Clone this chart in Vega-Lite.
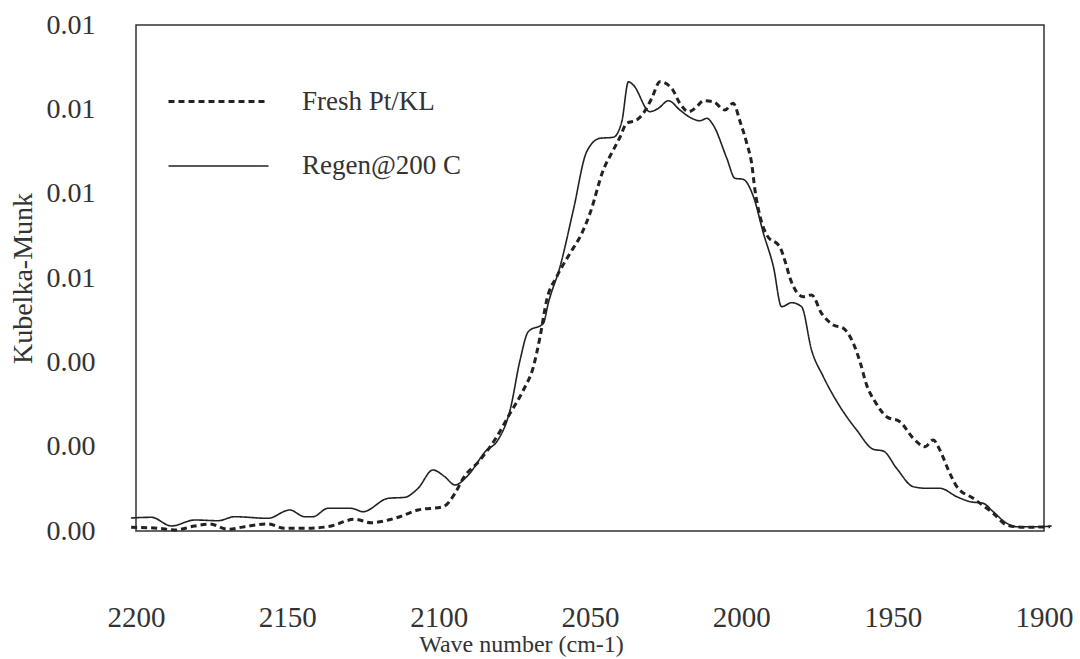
{
  "$schema": "https://vega.github.io/schema/vega-lite/v6.json",
  "width": 908,
  "height": 506,
  "autosize": {"type": "none"},
  "padding": {"left": 136, "top": 25, "right": 36, "bottom": 128},
  "background": "white",
  "config": {
    "font": "Liberation Serif",
    "view": {"stroke": "#333", "strokeWidth": 1.5},
    "axis": {"grid": false, "domain": false, "labelColor": "#333", "titleColor": "#333", "titleFontWeight": "normal", "labelFont": "Liberation Serif", "titleFont": "Liberation Serif"},
    "legend": {"labelFont": "Liberation Serif", "titleFont": "Liberation Serif"}
  },
  "data": {
    "values": [
      {"wn": 2201.7, "v": 0.000308, "s": "Regen@200 C"},
      {"wn": 2194.9, "v": 0.000325, "s": "Regen@200 C"},
      {"wn": 2188.3, "v": 0.000119, "s": "Regen@200 C"},
      {"wn": 2180.6, "v": 0.000261, "s": "Regen@200 C"},
      {"wn": 2172.9, "v": 0.000244, "s": "Regen@200 C"},
      {"wn": 2167.4, "v": 0.000339, "s": "Regen@200 C"},
      {"wn": 2156.4, "v": 0.000301, "s": "Regen@200 C"},
      {"wn": 2149.2, "v": 0.000498, "s": "Regen@200 C"},
      {"wn": 2144.3, "v": 0.000339, "s": "Regen@200 C"},
      {"wn": 2141.5, "v": 0.000339, "s": "Regen@200 C"},
      {"wn": 2136.6, "v": 0.000538, "s": "Regen@200 C"},
      {"wn": 2128.9, "v": 0.000538, "s": "Regen@200 C"},
      {"wn": 2125.0, "v": 0.000458, "s": "Regen@200 C"},
      {"wn": 2116.7, "v": 0.000775, "s": "Regen@200 C"},
      {"wn": 2111.2, "v": 0.000799, "s": "Regen@200 C"},
      {"wn": 2106.8, "v": 0.001013, "s": "Regen@200 C"},
      {"wn": 2101.9, "v": 0.001447, "s": "Regen@200 C"},
      {"wn": 2098.0, "v": 0.001288, "s": "Regen@200 C"},
      {"wn": 2094.6, "v": 0.001091, "s": "Regen@200 C"},
      {"wn": 2090.7, "v": 0.001288, "s": "Regen@200 C"},
      {"wn": 2084.1, "v": 0.001921, "s": "Regen@200 C"},
      {"wn": 2080.8, "v": 0.002118, "s": "Regen@200 C"},
      {"wn": 2076.4, "v": 0.00287, "s": "Regen@200 C"},
      {"wn": 2073.1, "v": 0.004055, "s": "Regen@200 C"},
      {"wn": 2070.4, "v": 0.004726, "s": "Regen@200 C"},
      {"wn": 2065.4, "v": 0.004926, "s": "Regen@200 C"},
      {"wn": 2063.8, "v": 0.0054, "s": "Regen@200 C"},
      {"wn": 2059.9, "v": 0.006268, "s": "Regen@200 C"},
      {"wn": 2055.5, "v": 0.007613, "s": "Regen@200 C"},
      {"wn": 2051.1, "v": 0.008995, "s": "Regen@200 C"},
      {"wn": 2046.7, "v": 0.009313, "s": "Regen@200 C"},
      {"wn": 2042.3, "v": 0.009337, "s": "Regen@200 C"},
      {"wn": 2039.5, "v": 0.009707, "s": "Regen@200 C"},
      {"wn": 2037.3, "v": 0.010655, "s": "Regen@200 C"},
      {"wn": 2035.7, "v": 0.010577, "s": "Regen@200 C"},
      {"wn": 2030.2, "v": 0.009944, "s": "Regen@200 C"},
      {"wn": 2027.4, "v": 0.010024, "s": "Regen@200 C"},
      {"wn": 2024.1, "v": 0.010205, "s": "Regen@200 C"},
      {"wn": 2020.3, "v": 0.009984, "s": "Regen@200 C"},
      {"wn": 2016.4, "v": 0.009787, "s": "Regen@200 C"},
      {"wn": 2013.7, "v": 0.00973, "s": "Regen@200 C"},
      {"wn": 2011.4, "v": 0.009787, "s": "Regen@200 C"},
      {"wn": 2009.3, "v": 0.009628, "s": "Regen@200 C"},
      {"wn": 2004.8, "v": 0.008839, "s": "Regen@200 C"},
      {"wn": 2002.1, "v": 0.008364, "s": "Regen@200 C"},
      {"wn": 1999.4, "v": 0.008341, "s": "Regen@200 C"},
      {"wn": 1996.0, "v": 0.007928, "s": "Regen@200 C"},
      {"wn": 1992.7, "v": 0.00706, "s": "Regen@200 C"},
      {"wn": 1989.4, "v": 0.006268, "s": "Regen@200 C"},
      {"wn": 1986.7, "v": 0.005319, "s": "Regen@200 C"},
      {"wn": 1983.4, "v": 0.005414, "s": "Regen@200 C"},
      {"wn": 1980.1, "v": 0.005319, "s": "Regen@200 C"},
      {"wn": 1976.8, "v": 0.004292, "s": "Regen@200 C"},
      {"wn": 1972.9, "v": 0.003659, "s": "Regen@200 C"},
      {"wn": 1967.4, "v": 0.002948, "s": "Regen@200 C"},
      {"wn": 1961.9, "v": 0.002395, "s": "Regen@200 C"},
      {"wn": 1956.4, "v": 0.001938, "s": "Regen@200 C"},
      {"wn": 1953.1, "v": 0.001897, "s": "Regen@200 C"},
      {"wn": 1948.7, "v": 0.001487, "s": "Regen@200 C"},
      {"wn": 1943.2, "v": 0.001051, "s": "Regen@200 C"},
      {"wn": 1938.8, "v": 0.001013, "s": "Regen@200 C"},
      {"wn": 1934.4, "v": 0.001013, "s": "Regen@200 C"},
      {"wn": 1928.8, "v": 0.000813, "s": "Regen@200 C"},
      {"wn": 1924.4, "v": 0.000695, "s": "Regen@200 C"},
      {"wn": 1920.1, "v": 0.000657, "s": "Regen@200 C"},
      {"wn": 1916.8, "v": 0.000458, "s": "Regen@200 C"},
      {"wn": 1912.3, "v": 0.000183, "s": "Regen@200 C"},
      {"wn": 1909.0, "v": 0.000102, "s": "Regen@200 C"},
      {"wn": 1901.3, "v": 0.000102, "s": "Regen@200 C"},
      {"wn": 1897.5, "v": 0.000119, "s": "Regen@200 C"},
      {"wn": 2201.6, "v": 0.000088, "s": "Fresh Pt/KL"},
      {"wn": 2192.7, "v": 0.000064, "s": "Fresh Pt/KL"},
      {"wn": 2187.2, "v": 0.000024, "s": "Fresh Pt/KL"},
      {"wn": 2180.6, "v": 0.000119, "s": "Fresh Pt/KL"},
      {"wn": 2175.6, "v": 0.000166, "s": "Fresh Pt/KL"},
      {"wn": 2169.6, "v": 0.00004, "s": "Fresh Pt/KL"},
      {"wn": 2164.1, "v": 0.000102, "s": "Fresh Pt/KL"},
      {"wn": 2156.4, "v": 0.000166, "s": "Fresh Pt/KL"},
      {"wn": 2150.9, "v": 0.000064, "s": "Fresh Pt/KL"},
      {"wn": 2144.3, "v": 0.000064, "s": "Fresh Pt/KL"},
      {"wn": 2136.6, "v": 0.000102, "s": "Fresh Pt/KL"},
      {"wn": 2127.7, "v": 0.000277, "s": "Fresh Pt/KL"},
      {"wn": 2122.3, "v": 0.000197, "s": "Fresh Pt/KL"},
      {"wn": 2114.5, "v": 0.000301, "s": "Fresh Pt/KL"},
      {"wn": 2106.8, "v": 0.000498, "s": "Fresh Pt/KL"},
      {"wn": 2098.5, "v": 0.000576, "s": "Fresh Pt/KL"},
      {"wn": 2094.6, "v": 0.000894, "s": "Fresh Pt/KL"},
      {"wn": 2091.9, "v": 0.00125, "s": "Fresh Pt/KL"},
      {"wn": 2086.3, "v": 0.001684, "s": "Fresh Pt/KL"},
      {"wn": 2080.8, "v": 0.002236, "s": "Fresh Pt/KL"},
      {"wn": 2076.4, "v": 0.002791, "s": "Fresh Pt/KL"},
      {"wn": 2072.0, "v": 0.003344, "s": "Fresh Pt/KL"},
      {"wn": 2068.7, "v": 0.003896, "s": "Fresh Pt/KL"},
      {"wn": 2066.5, "v": 0.004608, "s": "Fresh Pt/KL"},
      {"wn": 2064.3, "v": 0.005478, "s": "Fresh Pt/KL"},
      {"wn": 2061.0, "v": 0.006031, "s": "Fresh Pt/KL"},
      {"wn": 2056.6, "v": 0.006586, "s": "Fresh Pt/KL"},
      {"wn": 2052.7, "v": 0.00706, "s": "Fresh Pt/KL"},
      {"wn": 2050.0, "v": 0.007534, "s": "Fresh Pt/KL"},
      {"wn": 2045.6, "v": 0.008561, "s": "Fresh Pt/KL"},
      {"wn": 2042.3, "v": 0.009035, "s": "Fresh Pt/KL"},
      {"wn": 2040.1, "v": 0.009337, "s": "Fresh Pt/KL"},
      {"wn": 2037.9, "v": 0.009669, "s": "Fresh Pt/KL"},
      {"wn": 2034.6, "v": 0.009747, "s": "Fresh Pt/KL"},
      {"wn": 2032.4, "v": 0.009906, "s": "Fresh Pt/KL"},
      {"wn": 2029.6, "v": 0.010261, "s": "Fresh Pt/KL"},
      {"wn": 2026.9, "v": 0.010655, "s": "Fresh Pt/KL"},
      {"wn": 2023.0, "v": 0.010498, "s": "Fresh Pt/KL"},
      {"wn": 2020.3, "v": 0.010143, "s": "Fresh Pt/KL"},
      {"wn": 2017.5, "v": 0.009944, "s": "Fresh Pt/KL"},
      {"wn": 2014.7, "v": 0.010062, "s": "Fresh Pt/KL"},
      {"wn": 2012.6, "v": 0.010205, "s": "Fresh Pt/KL"},
      {"wn": 2009.3, "v": 0.010181, "s": "Fresh Pt/KL"},
      {"wn": 2005.4, "v": 0.009984, "s": "Fresh Pt/KL"},
      {"wn": 2002.7, "v": 0.010143, "s": "Fresh Pt/KL"},
      {"wn": 2000.4, "v": 0.009707, "s": "Fresh Pt/KL"},
      {"wn": 1998.2, "v": 0.009194, "s": "Fresh Pt/KL"},
      {"wn": 1996.6, "v": 0.00872, "s": "Fresh Pt/KL"},
      {"wn": 1995.5, "v": 0.008087, "s": "Fresh Pt/KL"},
      {"wn": 1993.8, "v": 0.007454, "s": "Fresh Pt/KL"},
      {"wn": 1991.6, "v": 0.00702, "s": "Fresh Pt/KL"},
      {"wn": 1987.2, "v": 0.006723, "s": "Fresh Pt/KL"},
      {"wn": 1985.0, "v": 0.006268, "s": "Fresh Pt/KL"},
      {"wn": 1983.9, "v": 0.005993, "s": "Fresh Pt/KL"},
      {"wn": 1979.5, "v": 0.005556, "s": "Fresh Pt/KL"},
      {"wn": 1976.8, "v": 0.005597, "s": "Fresh Pt/KL"},
      {"wn": 1973.5, "v": 0.005163, "s": "Fresh Pt/KL"},
      {"wn": 1969.6, "v": 0.004885, "s": "Fresh Pt/KL"},
      {"wn": 1966.3, "v": 0.004807, "s": "Fresh Pt/KL"},
      {"wn": 1963.0, "v": 0.004451, "s": "Fresh Pt/KL"},
      {"wn": 1960.8, "v": 0.004015, "s": "Fresh Pt/KL"},
      {"wn": 1958.6, "v": 0.003462, "s": "Fresh Pt/KL"},
      {"wn": 1955.8, "v": 0.003066, "s": "Fresh Pt/KL"},
      {"wn": 1952.0, "v": 0.002711, "s": "Fresh Pt/KL"},
      {"wn": 1947.6, "v": 0.002592, "s": "Fresh Pt/KL"},
      {"wn": 1943.2, "v": 0.002198, "s": "Fresh Pt/KL"},
      {"wn": 1939.3, "v": 0.001999, "s": "Fresh Pt/KL"},
      {"wn": 1936.6, "v": 0.002158, "s": "Fresh Pt/KL"},
      {"wn": 1934.4, "v": 0.001921, "s": "Fresh Pt/KL"},
      {"wn": 1931.6, "v": 0.001447, "s": "Fresh Pt/KL"},
      {"wn": 1928.8, "v": 0.001051, "s": "Fresh Pt/KL"},
      {"wn": 1923.4, "v": 0.000775, "s": "Fresh Pt/KL"},
      {"wn": 1916.8, "v": 0.00042, "s": "Fresh Pt/KL"},
      {"wn": 1912.3, "v": 0.000142, "s": "Fresh Pt/KL"},
      {"wn": 1906.8, "v": 0.000088, "s": "Fresh Pt/KL"},
      {"wn": 1898.0, "v": 0.000102, "s": "Fresh Pt/KL"}
    ]
  },
  "mark": {"type": "line", "color": "#222", "interpolate": "monotone", "clip": false},
  "encoding": {
    "x": {
      "field": "wn", "type": "quantitative",
      "scale": {"domain": [1900, 2200], "reverse": true, "nice": false, "zero": false},
      "axis": {
        "values": [2200, 2150, 2100, 2050, 2000, 1950, 1900],
        "format": "d", "ticks": false, "labelPadding": 72,
        "labelFontSize": 29, "labelFlush": false,
        "title": "Wave number (cm-1)", "titleFontSize": 24,
        "titleX": 385, "titleY": 101
      }
    },
    "y": {
      "field": "v", "type": "quantitative",
      "scale": {"domain": [0, 0.012], "nice": false},
      "axis": {
        "values": [0, 0.002, 0.004, 0.006, 0.008, 0.01, 0.012],
        "format": ".2f", "ticks": false, "labelPadding": 41,
        "labelFontSize": 28, "labelFlush": false,
        "title": "Kubelka-Munk", "titleFontSize": 28,
        "titleX": -99, "titleY": 253
      }
    },
    "strokeDash": {
      "field": "s", "type": "nominal",
      "scale": {"domain": ["Fresh Pt/KL", "Regen@200 C"], "range": [[6, 4], [1, 0]]},
      "legend": {
        "title": null, "orient": "none", "legendX": 31, "legendY": 25,
        "symbolType": "stroke", "symbolSize": 10000, "symbolStrokeColor": "#222",
        "symbolStrokeWidth": 2, "labelFontSize": 27, "labelColor": "#333",
        "labelOffset": 32, "rowPadding": -1
      }
    },
    "strokeWidth": {
      "field": "s", "type": "nominal",
      "scale": {"domain": ["Fresh Pt/KL", "Regen@200 C"], "range": [3, 1.6]},
      "legend": null
    }
  }
}
